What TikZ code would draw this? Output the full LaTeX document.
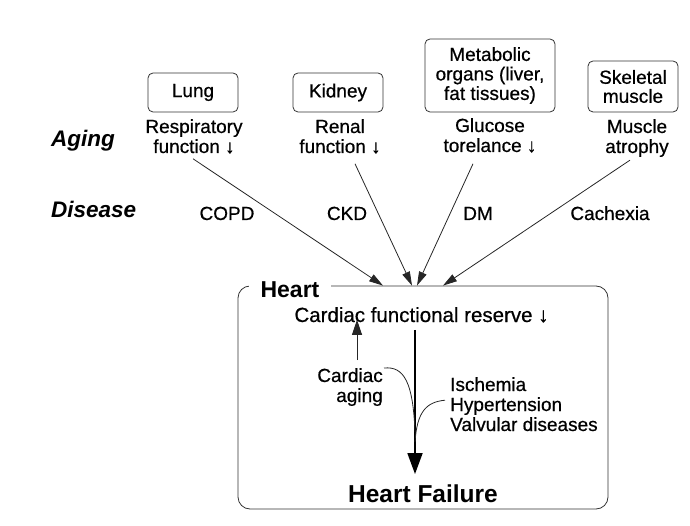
\documentclass[tikz,border=0pt]{standalone}
\usepackage{fontspec}
\setmainfont{Liberation Sans}
\newfontfamily\lblfont{Liberation Sans}[FakeBold=0.6]
\usetikzlibrary{arrows.meta}

\begin{document}
\begin{tikzpicture}[x=1pt,y=-1pt,
    every node/.style={inner sep=0pt},
    lbl/.style={align=center,font=\lblfont\fontsize{19}{20}\selectfont},
    organ/.style={lbl,draw=black!80,line width=0.8pt,rounded corners=5pt,
      minimum width=90pt,minimum height=39pt},
    rowlbl/.style={font=\fontsize{22.5}{24}\selectfont\bfseries\itshape,anchor=base west},
    feed/.style={draw=black!85,line width=0.8pt,-{Triangle[length=14pt,width=8pt]}},
    mainarrow/.style={draw=black,line width=1.8pt,-{Triangle[length=21pt,width=15pt]}},
    thinarrow/.style={draw=black!85,line width=0.8pt,-{Triangle[length=15pt,width=10pt]}},
    joinline/.style={draw=black!85,line width=0.8pt}]
  \useasboundingbox (0,0) rectangle (690,526);
  % organs
  \node[organ] (lung) at (193,92.5) {Lung};
  \node[organ] (kidney) at (338,92.5) {Kidney};
  \node[organ,minimum width=130pt,minimum height=73pt,font=\lblfont\fontsize{19}{19.5}\selectfont] (metab) at (490,75.5) {Metabolic\\organs (liver,\\fat tissues)};
  \node[organ,minimum height=51pt,font=\lblfont\fontsize{19}{19}\selectfont] (skel) at (633,86.5) {Skeletal\\muscle};
  % aging row
  \node[rowlbl] (aging) at (51,147) {Aging};
  \node[lbl,anchor=base] (resp) at (194,153) {Respiratory\\function ↓};
  \node[lbl,anchor=base] (renal) at (340,153) {Renal\\function ↓};
  \node[lbl,anchor=base] (gluc) at (490,152) {Glucose\\torelance ↓};
  \node[lbl,anchor=base] (atro) at (637,153) {Muscle\\atrophy};
  % disease row
  \node[rowlbl] (disease) at (51,218) {Disease};
  \node[lbl,anchor=base] (copd) at (227,220) {COPD};
  \node[lbl,anchor=base] (ckd) at (347,220) {CKD};
  \node[lbl,anchor=base] (dm) at (478,220) {DM};
  \node[lbl,anchor=base] (cach) at (610,220) {Cachexia};
  % heart
  \node[draw=black!80,line width=0.8pt,rounded corners=12pt,minimum width=370pt,minimum height=223pt] (heart) at (423,397.5) {};
  \node[font=\fontsize{23}{24}\selectfont\bfseries,fill=white,inner xsep=12pt,inner ysep=3pt,anchor=base] (heartlbl) at (290,298) {Heart};
  \node[lbl,font=\lblfont\fontsize{20.5}{21}\selectfont,anchor=base] (reserve) at (421.5,322) {Cardiac functional reserve ↓};
  \node[lbl,align=right,anchor=base east] (cardage) at (383,402) {Cardiac\\aging};
  \node[lbl,align=left,anchor=base west] (causes) at (450,431) {Ischemia\\Hypertension\\Valvular diseases};
  \node[font=\fontsize{24.5}{26}\selectfont\bfseries,anchor=base] (failure) at (423,502) {Heart Failure};
  \coordinate (mainx) at (415,0);
  \coordinate (agex) at (357,0);
  % incoming arrows
  \draw[feed] ([xshift=-1pt,yshift=-5pt]resp.south) -- ([xshift=-40pt]heart.north);
  \draw[feed] ([xshift=15pt,yshift=-10pt]renal.south) -- ([xshift=-11pt]heart.north);
  \draw[feed] ([xshift=-17pt,yshift=-11pt]gluc.south) -- ([xshift=-6pt]heart.north);
  \draw[feed] ([xshift=-7pt,yshift=-3pt]atro.south) -- ([xshift=20pt]heart.north);
  % inside the heart
  \draw[mainarrow] ([yshift=-7pt]reserve.south -| mainx) -- ([yshift=10pt]failure.north -| mainx);
  \draw[thinarrow] ([yshift=8pt]cardage.north -| agex) -- ([yshift=3pt]reserve.south -| agex);
  \draw[joinline] ([xshift=1pt]cardage.north east) .. controls (404,366) and (413,382) .. (415,432);
  \draw[joinline] ([xshift=-5pt,yshift=4pt]causes.west) .. controls (426,402) and (417,412) .. (415,442);
\end{tikzpicture}
\end{document}
